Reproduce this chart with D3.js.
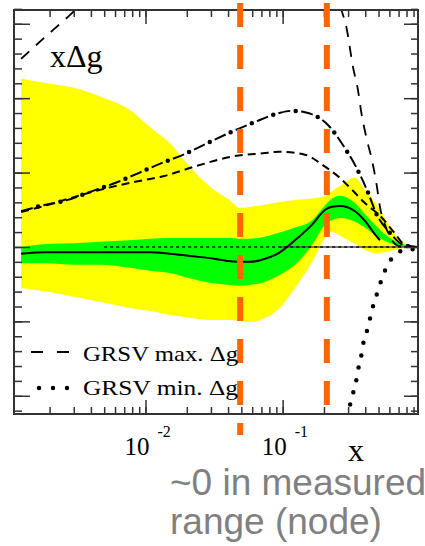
<!DOCTYPE html>
<html>
<head>
<meta charset="utf-8">
<script src="https://cdn.jsdelivr.net/npm/d3@7"></script>
<style>
  body { margin: 0; background: #fff; }
  svg { display: block; }
</style>
</head>
<body>
<div id="chart"></div>
<script>
// x grid shared by the two uncertainty bands
const bandX    = [0.00124, 0.0019, 0.003, 0.0047, 0.0077, 0.0108, 0.015, 0.021, 0.0295, 0.041, 0.049, 0.058, 0.071, 0.094, 0.123, 0.164, 0.204, 0.229, 0.262, 0.337, 0.398, 0.471, 0.557, 0.658, 0.778, 0.969];
const yellowHi = [0.226, 0.220, 0.214, 0.202, 0.184, 0.161, 0.140, 0.108, 0.081, 0.063, 0.052, 0.054, 0.056, 0.060, 0.063, 0.065, 0.069, 0.075, 0.082, 0.093, 0.077, 0.060, 0.039, 0.017, 0.005, 0];
const yellowLo = [-0.055, -0.060, -0.067, -0.074, -0.082, -0.086, -0.091, -0.095, -0.098, -0.098, -0.099, -0.101, -0.097, -0.083, -0.055, -0.020, 0.012, 0.020, 0.015, 0.004, -0.004, -0.008, -0.007, -0.004, -0.001, 0];
const greenHi  = [0, 0.004, 0.005, 0.007, 0.009, 0.011, 0.012, 0.012, 0.012, 0.012, 0.011, 0.011, 0.013, 0.019, 0.026, 0.036, 0.056, 0.065, 0.069, 0.059, 0.044, 0.030, 0.017, 0.008, 0.003, 0];
const greenLo  = [-0.022, -0.022, -0.024, -0.024, -0.028, -0.032, -0.035, -0.042, -0.048, -0.051, -0.052, -0.051, -0.048, -0.038, -0.024, 0.003, 0.030, 0.036, 0.039, 0.034, 0.026, 0.016, 0.008, 0.003, 0, -0.001];

// central fit
const centralX = [0.00124, 0.0019, 0.003, 0.0047, 0.0077, 0.0108, 0.015, 0.021, 0.0295, 0.041, 0.049, 0.058, 0.071, 0.094, 0.123, 0.164, 0.204, 0.229, 0.262, 0.337, 0.398, 0.471, 0.512];
const centralY = [-0.009, -0.007, -0.007, -0.007, -0.007, -0.007, -0.009, -0.012, -0.015, -0.019, -0.020, -0.020, -0.017, -0.008, 0.009, 0.030, 0.050, 0.054, 0.055, 0.048, 0.035, 0.017, 0.009];

// dash-dot curve
const dashDotX = [0.00124, 0.0017, 0.00268, 0.00394, 0.006, 0.0088, 0.0132, 0.0194, 0.0285, 0.0427, 0.0628, 0.094, 0.117, 0.1455, 0.214, 0.275, 0.342, 0.411, 0.487, 0.605, 0.754, 0.969];
const dashDotY = [0.048, 0.055, 0.063, 0.074, 0.086, 0.099, 0.113, 0.125, 0.140, 0.155, 0.168, 0.180, 0.183, 0.181, 0.164, 0.137, 0.108, 0.077, 0.043, 0.019, 0.003, 0];

// short dashed curve
const dashedX = [0.00124, 0.0019, 0.003, 0.0047, 0.0081, 0.0134, 0.0237, 0.0413, 0.0719, 0.0955, 0.1455, 0.2035, 0.257, 0.320, 0.398, 0.525, 0.653, 0.778, 0.969];
const dashedY = [0.047, 0.056, 0.067, 0.077, 0.087, 0.095, 0.109, 0.121, 0.126, 0.128, 0.124, 0.108, 0.094, 0.077, 0.059, 0.040, 0.019, 0.003, 0];

// GRSV max (runs off the top of the frame)
const grsvMaxX = [0.00124, 0.00185, 0.00282, 0.00466, 0.00652, 0.0578, 0.187, 0.2617, 0.294, 0.3254, 0.354, 0.372, 0.4115, 0.4476, 0.4867, 0.512, 0.557, 0.626, 0.716, 0.969];
const grsvMaxY = [0.253, 0.282, 0.312, 0.352, 0.386, 0.466, 0.413, 0.325, 0.292, 0.242, 0.211, 0.184, 0.144, 0.117, 0.081, 0.054, 0.030, 0.009, 0.001, 0];

// GRSV min (runs off the bottom)
const grsvMinX = [0.289, 0.299, 0.3146, 0.331, 0.348, 0.360, 0.378, 0.391, 0.418, 0.440, 0.463, 0.495, 0.530, 0.576, 0.647, 0.778, 0.953];
const grsvMinY = [-0.245, -0.2245, -0.208, -0.192, -0.175, -0.159, -0.142, -0.125, -0.109, -0.091, -0.075, -0.059, -0.042, -0.026, -0.012, -0.004, -0.003];

// node markers (orange) and their vertical extent
const nodeX = [0.049, 0.21];
const nodeTop = 0.328;
const nodeBottom = [-0.2527, -0.2124];

const xMajor = [0.01, 0.1];
const xTickExp = ["-2", "-1"];
const yMajor = [-0.2, -0.1, 0, 0.1, 0.2, 0.3];
const legendLabels = ["GRSV max. \u0394g", "GRSV min. \u0394g"];
const noteLines = ["~0 in measured", "range (node)"];

const w = 425;
const h = 546;
const svg = d3.select("#chart").append("svg")
    .attr("width", w)
    .attr("height", h);

const x = d3.scaleLog().domain([0.0011, 0.97]).range([14, 418]);
const y = d3.scaleLinear().domain([-0.2245, 0.3185]).range([414, 10]);

// minor ticks on log axis: 1..9 x 10^k inside the domain
let xMinor = [];
for (let k = -3; k <= 0; k++) {
    for (let m = 1; m <= 9; m++) {
        const v = m * Math.pow(10, k);
        if (v >= 0.0011 && v <= 0.97) xMinor.push(v);
    }
}
const yMinor = d3.range(-22, 33, 2).map(d => d / 100);

const frameL = x.range()[0], frameR = x.range()[1];
const frameT = y.range()[1], frameB = y.range()[0];

svg.append("clipPath").attr("id", "frame")
    .append("rect")
    .attr("x", frameL).attr("y", frameT)
    .attr("width", frameR - frameL)
    .attr("height", frameB - frameT);

const plot = svg.append("g").attr("clip-path", "url(#frame)");

const band = d3.area()
    .x(d => x(d.x))
    .y0(d => y(d.lo))
    .y1(d => y(d.hi))
    .curve(d3.curveMonotoneX);

plot.append("path")
    .attr("d", band(bandX.map((v, i) => ({x: v, lo: yellowLo[i], hi: yellowHi[i]}))))
    .attr("fill", "#ffff00");
plot.append("path")
    .attr("d", band(bandX.map((v, i) => ({x: v, lo: greenLo[i], hi: greenHi[i]}))))
    .attr("fill", "#00ff00");

// zero line: solid part on the right, dotted over a longer range
plot.append("line")
    .attr("x1", x(0.095)).attr("x2", x(0.97))
    .attr("y1", y(0)).attr("y2", y(0))
    .attr("stroke", "#555").attr("stroke-width", 1.5);
plot.append("line")
    .attr("x1", x(0.005)).attr("x2", x(0.97))
    .attr("y1", y(0)).attr("y2", y(0))
    .attr("stroke", "#111").attr("stroke-width", 1.6)
    .attr("stroke-dasharray", "3,3");

// frame + ticks
const axisStyle = g => {
    g.select(".domain").remove();
    g.selectAll("line").attr("stroke", "#333").attr("stroke-width", 1.5);
};

svg.append("g").attr("transform", `translate(0,${frameT})`)
    .call(d3.axisTop(x).tickValues(xMinor).tickSize(-7).tickFormat("")).call(axisStyle);
svg.append("g").attr("transform", `translate(0,${frameT})`)
    .call(d3.axisTop(x).tickValues(xMajor).tickSize(-14).tickFormat("")).call(axisStyle);
svg.append("g").attr("transform", `translate(0,${frameB})`)
    .call(d3.axisBottom(x).tickValues(xMinor).tickSize(-7).tickFormat("")).call(axisStyle);
svg.append("g").attr("transform", `translate(0,${frameB})`)
    .call(d3.axisBottom(x).tickValues(xMajor).tickSize(-14).tickFormat("")).call(axisStyle);
svg.append("g").attr("transform", `translate(${frameL},0)`)
    .call(d3.axisLeft(y).tickValues(yMinor).tickSize(-8).tickFormat("")).call(axisStyle);
svg.append("g").attr("transform", `translate(${frameL},0)`)
    .call(d3.axisLeft(y).tickValues(yMajor).tickSize(-16).tickFormat("")).call(axisStyle);
svg.append("g").attr("transform", `translate(${frameR},0)`)
    .call(d3.axisRight(y).tickValues(yMinor).tickSize(-7).tickFormat("")).call(axisStyle);
svg.append("g").attr("transform", `translate(${frameR},0)`)
    .call(d3.axisRight(y).tickValues(yMajor).tickSize(-14).tickFormat("")).call(axisStyle);

svg.append("rect")
    .attr("x", frameL).attr("y", frameT)
    .attr("width", frameR - frameL).attr("height", frameB - frameT)
    .attr("fill", "none").attr("stroke", "#333").attr("stroke-width", 2);

// orange node lines
svg.selectAll(".node")
    .data(nodeX)
    .enter().append("line")
    .attr("class", "node")
    .attr("x1", d => x(d)).attr("x2", d => x(d))
    .attr("y1", y(nodeTop))
    .attr("y2", (d, i) => y(nodeBottom[i]))
    .attr("stroke", "#ff6600").attr("stroke-width", 6)
    .attr("stroke-dasharray", "24,18");

const line = d3.line()
    .x(d => x(d[0]))
    .y(d => y(d[1]))
    .curve(d3.curveMonotoneX);
const pairs = (xs, ys) => xs.map((v, i) => [v, ys[i]]);

plot.append("path")
    .attr("d", line(pairs(centralX, centralY)))
    .attr("fill", "none").attr("stroke", "#000").attr("stroke-width", 2);

plot.append("path")
    .attr("d", line(pairs(dashedX, dashedY)))
    .attr("fill", "none").attr("stroke", "#000").attr("stroke-width", 2)
    .attr("stroke-dasharray", "8,5");

// dash-dot = dashes + separate bigger dots on same geometry
plot.append("path")
    .attr("d", line(pairs(dashDotX, dashDotY)))
    .attr("fill", "none").attr("stroke", "#000").attr("stroke-width", 2)
    .attr("stroke-dasharray", "12,11");
plot.append("path")
    .attr("d", line(pairs(dashDotX, dashDotY)))
    .attr("fill", "none").attr("stroke", "#000").attr("stroke-width", 4.5)
    .attr("stroke-linecap", "round")
    .attr("stroke-dasharray", "0,23").attr("stroke-dashoffset", -17.5);

plot.append("path")
    .attr("d", line(pairs(grsvMaxX, grsvMaxY)))
    .attr("fill", "none").attr("stroke", "#000").attr("stroke-width", 1.8)
    .attr("stroke-dasharray", "11,9");

plot.append("path")
    .attr("d", line(pairs(grsvMinX, grsvMinY)))
    .attr("fill", "none").attr("stroke", "#000").attr("stroke-width", 4.5)
    .attr("stroke-linecap", "round")
    .attr("stroke-dasharray", "0,12.6");

// texts
const serif = "'Liberation Serif', 'Times New Roman', serif";

svg.append("text")
    .attr("x", 50).attr("y", 67)
    .style("font-family", serif).style("font-size", "32px")
    .text("x\u0394g");

// legend
const legend = svg.append("g");
legend.append("line")
    .attr("x1", 31).attr("x2", 71).attr("y1", 352).attr("y2", 352)
    .attr("stroke", "#000").attr("stroke-width", 1.8)
    .attr("stroke-dasharray", "12,14");
legend.append("line")
    .attr("x1", 39).attr("x2", 68).attr("y1", 388).attr("y2", 388)
    .attr("stroke", "#000").attr("stroke-width", 4.5)
    .attr("stroke-linecap", "round")
    .attr("stroke-dasharray", "0,14");
legend.selectAll("text")
    .data(legendLabels)
    .enter().append("text")
    .attr("x", 83)
    .attr("y", (d, i) => 361 + i * 34)
    .attr("textLength", 155)
    .attr("lengthAdjust", "spacingAndGlyphs")
    .style("font-family", serif).style("font-size", "22px")
    .text(d => d);

// x tick labels 10^-2, 10^-1
xMajor.forEach((v, i) => {
    svg.append("text")
        .attr("x", x(v) - 21).attr("y", 455)
        .style("font-family", serif).style("font-size", "25px")
        .text("10");
    svg.append("text")
        .attr("x", x(v) + 12).attr("y", 437)
        .style("font-family", serif).style("font-size", "16px")
        .text(xTickExp[i]);
});

svg.append("text")
    .attr("x", 348).attr("y", 461)
    .style("font-family", serif).style("font-size", "32px")
    .text("x");

svg.selectAll(".note")
    .data(noteLines)
    .enter().append("text")
    .attr("class", "note")
    .attr("x", 170)
    .attr("y", (d, i) => 495 + i * 39)
    .style("font-family", "'Liberation Sans', Arial, sans-serif")
    .style("font-size", "37px")
    .attr("fill", "#808080")
    .text(d => d);
</script>
</body>
</html>
